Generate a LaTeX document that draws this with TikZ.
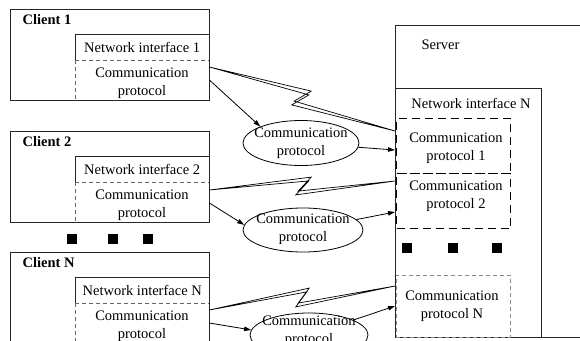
\documentclass[tikz,border=0pt]{standalone}
\usepackage{fontspec}
\setmainfont{Liberation Serif}
\usetikzlibrary{arrows.meta,calc,shapes.geometric}

% one client: outer frame, title, network interface and protocol parts
% #1 name prefix, #2 top edge, #3 title, #4 interface label
\newcommand{\clientblock}[4]{%
  \node[frame, minimum width=199, minimum height=91, anchor=north west] (#1) at (10,#2) {};
  \node[anchor=west, font=\fontsize{14.5}{18}\selectfont\bfseries] (#1t) at (19,#2+11) {#3};
  \node[part, minimum height=26, anchor=north west] (#1ni) at (75,#2+25) {#4};
  \node[part, minimum height=40, anchor=north west] (#1cp) at (75,#2+51) {};
  \node[txt] (#1cpt) at (142,#2+74.5) {Communication\\protocol};
  \draw[frameline] (#1ni.south west) |- (#1ni.north east);
  \draw[thindash] (#1ni.south west) -- (#1ni.south east);
  \draw[thindash] (#1cp.north west) -- (#1cp.south west);
}

% lightning link: a thin closed zigzag band from #1 to #2 with kinks #3, #4
\newcommand{\bolt}[4]{%
  \draw[boltline] (#1) -- ($(#3)+(1.2,-1.9)$) -- ($(#4)+(1.2,-1.9)$) -- (#2)
    -- ($(#4)+(-1.2,1.9)$) -- ($(#3)+(-1.2,1.9)$) -- cycle;
}

\begin{document}
\begin{tikzpicture}[x=1pt, y=-1pt,
  every node/.style={font=\fontsize{14.5}{18}\selectfont},
  frame/.style={draw=black!85, line width=0.9pt, inner sep=0},
  frameline/.style={draw=black!85, line width=0.9pt},
  part/.style={minimum width=134, inner sep=0},
  txt/.style={align=center, inner sep=0},
  thindash/.style={draw=black!60, line width=0.7pt, dash pattern=on 4pt off 3pt},
  thickdash/.style={draw=black, line width=1.1pt, dash pattern=on 8pt off 5pt, inner sep=0},
  greydash/.style={draw=black!45, line width=0.7pt, dash pattern=on 4pt off 3pt, inner sep=0},
  bubble/.style={ellipse, draw=black, line width=0.8pt, inner sep=0},
  boltline/.style={draw=black, line width=0.7pt, fill=white},
  arr/.style={draw=black, line width=0.8pt, -{Triangle[length=7pt, width=4.5pt]}},
  blob/.style={fill=black, minimum size=10, inner sep=0}
]
\useasboundingbox (0,0) rectangle (580,340);
\clip (0,0) rectangle (580,340);

% clients
\clientblock{c1}{9}{Client 1}{Network interface 1}
\clientblock{c2}{131}{Client 2}{Network interface 2}
\clientblock{cn}{252}{Client N}{Network interface N}

\node[blob] (d1) at (72,239) {};
\node[blob] (d2) at (113,239) {};
\node[blob] (d3) at (148,239) {};

% server
\node[frame, minimum width=230, minimum height=312, anchor=north west] (srv) at (395,25) {};
\node[anchor=west] (srvt) at (418,45) {Server};
\node[frame, minimum width=146, minimum height=249, anchor=north west] (sni) at (395,88) {};
\node (snit) at (471,103) {Network interface N};
\node[thickdash, minimum width=114, minimum height=55, anchor=north west] (sp1) at (396,118) {};
\node[txt] (sp1t) at (456,148) {Communication\\protocol 1};
\node[thickdash, minimum width=114, minimum height=55, anchor=north west] (sp2) at (396,173) {};
\node[txt] (sp2t) at (456,196) {Communication\\protocol 2};
\node[greydash, minimum width=114, minimum height=62, anchor=north west] (spn) at (396,275) {};
\node[txt] (spnt) at (452,306) {Communication\\protocol N};

\node[blob] (d4) at (407,248) {};
\node[blob] (d5) at (453,248) {};
\node[blob] (d6) at (497,248) {};

% protocol converters between clients and server
\node[bubble, minimum width=116, minimum height=45] (e1) at (301,143) {};
\node[txt] (e1t) at (301,143) {Communication\\protocol};
\node[bubble, minimum width=120, minimum height=44] (e2) at (303,230) {};
\node[txt] (e2t) at (303,229) {Communication\\protocol};
\node[bubble, minimum width=118, minimum height=44] (e3) at (309,335) {};
\node[txt] (e3t) at (309,331) {Communication\\protocol};

% link end points
\coordinate (l1a) at ($(c1cp.north east)+(0,7)$);
\coordinate (l2a) at ($(c2cp.north east)+(0,8)$);
\coordinate (l3a) at ($(cncp.north east)+(0,7)$);
\coordinate (l1b) at ($(sni.north west)+(0,43)$);
\coordinate (l2b) at ($(sni.north west)+(0,93)$);
\coordinate (l3b) at ($(sni.north west)+(0,198)$);
\coordinate (a1) at ($(c1cp.north east)+(0,20)$);
\coordinate (a2) at ($(c2cp.north east)+(0,21)$);
\coordinate (a3) at ($(cncp.north east)+(0,20)$);
\coordinate (s1) at ($(sni.north west)+(0,62)$);
\coordinate (s2) at ($(sni.north west)+(0,124)$);
\coordinate (s3) at ($(sni.north west)+(0,218)$);

% wireless links
\bolt{l1a}{l1b}{310,93}{293,103}
\bolt{l2a}{l2b}{310,179}{297,193}
\bolt{l3a}{l3b}{308,290}{297,305}

% protocol paths
\draw[arr] (a1) -- (e1.158);
\draw[arr] (e1) -- (s1);
\draw[arr] (a2) -- (e2.175);
\draw[arr] (e2) -- (s2);
\draw[arr] (a3) -- (e3.175);
\draw[arr] (e3) -- (s3);
\end{tikzpicture}
\end{document}
